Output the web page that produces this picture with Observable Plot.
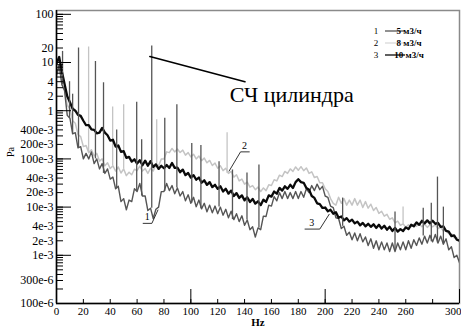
<!DOCTYPE html>
<html><head><meta charset="utf-8">
<script src="https://cdn.jsdelivr.net/npm/d3@7"></script>
<script src="https://cdn.jsdelivr.net/npm/@observablehq/plot@0.6"></script>
<style>body{margin:0;background:#fff}#chart{width:461px;height:332px}</style>
</head><body><div id="chart"></div>
<script>
// ---- data ----
const seriesNums = ["1", "2", "3"];
const seriesNames = ["5 м3/ч", "8 м3/ч", "10 м3/ч"];
const freqStep = 2; // Hz between samples below, starting at 0 Hz

// 5 m3/h (curve 1)
const p5 = [
  5.5, 9, 3.5, 2.6, 0.8, 0.7, 0.33, 0.35, 0.17, 0.18,
  0.1, 0.13, 0.1, 0.14, 0.08, 0.1, 0.062, 0.08, 0.05, 0.062,
  0.038, 0.042, 0.024, 0.027, 0.013, 0.015, 0.0088, 0.014, 0.013, 0.024,
  0.021, 0.031, 0.017, 0.017, 0.0085, 0.0095, 0.0058, 0.009, 0.01, 0.021,
  0.021, 0.031, 0.022, 0.028, 0.019, 0.025, 0.017, 0.021, 0.0135, 0.018,
  0.012, 0.016, 0.0102, 0.014, 0.0092, 0.012, 0.008, 0.011, 0.0076, 0.0105,
  0.0073, 0.01, 0.0068, 0.009, 0.006, 0.0082, 0.0055, 0.0073, 0.005, 0.0066,
  0.0042, 0.0054, 0.0034, 0.0039, 0.0024, 0.0037, 0.0034, 0.0065, 0.0064, 0.011,
  0.0105, 0.0165, 0.0135, 0.02, 0.015, 0.021, 0.015, 0.02, 0.015, 0.021,
  0.015, 0.021, 0.016, 0.024, 0.02, 0.028, 0.022, 0.03, 0.023, 0.027,
  0.017, 0.016, 0.0105, 0.0098, 0.006, 0.0058, 0.0036, 0.004, 0.0026, 0.003,
  0.0021, 0.0029, 0.002, 0.0028, 0.0019, 0.0024, 0.0016, 0.0022, 0.0014, 0.002,
  0.0013, 0.0019, 0.0013, 0.0018, 0.0012, 0.0018, 0.0012, 0.0018, 0.0013, 0.0019,
  0.0013, 0.002, 0.0014, 0.0021, 0.0016, 0.0023, 0.0017, 0.0025, 0.0018, 0.0026,
  0.0019, 0.0027, 0.0018, 0.0025, 0.0017, 0.0022, 0.0013, 0.0015, 0.0009, 0.001,
  0.0007
];
// 8 m3/h (curve 2)
const p8 = [
  5, 8.5, 3.5, 2.8, 1.3, 1.1, 0.62, 0.55, 0.32, 0.29,
  0.18, 0.19, 0.135, 0.155, 0.115, 0.13, 0.09, 0.1, 0.072, 0.083,
  0.063, 0.072, 0.056, 0.068, 0.051, 0.062, 0.045, 0.053, 0.047, 0.061,
  0.057, 0.071, 0.056, 0.063, 0.05, 0.064, 0.056, 0.077, 0.072, 0.099,
  0.1, 0.14, 0.135, 0.165, 0.14, 0.16, 0.136, 0.152, 0.12, 0.135,
  0.11, 0.125, 0.1, 0.115, 0.092, 0.104, 0.083, 0.093, 0.073, 0.082,
  0.064, 0.072, 0.057, 0.064, 0.05, 0.055, 0.042, 0.047, 0.035, 0.038,
  0.03, 0.033, 0.026, 0.028, 0.023, 0.026, 0.021, 0.025, 0.022, 0.029,
  0.028, 0.037, 0.035, 0.046, 0.043, 0.055, 0.05, 0.062, 0.055, 0.068,
  0.058, 0.069, 0.057, 0.065, 0.05, 0.054, 0.041, 0.043, 0.032, 0.032,
  0.024, 0.021, 0.015, 0.012, 0.011, 0.016, 0.012, 0.015, 0.011, 0.014,
  0.011, 0.015, 0.011, 0.014, 0.0098, 0.013, 0.0095, 0.0115, 0.0085, 0.0098,
  0.0074, 0.0082, 0.0065, 0.0071, 0.0056, 0.006, 0.0047, 0.0051, 0.0042, 0.0045,
  0.0038, 0.0043, 0.0039, 0.0044, 0.004, 0.0045, 0.0039, 0.0044, 0.0038, 0.0043,
  0.0039, 0.0043, 0.0036, 0.0038, 0.0032, 0.0033, 0.0028, 0.0028, 0.0023, 0.0023,
  0.002
];
// 10 m3/h (curve 3)
const p10 = [
  9.5, 13, 6.5, 3.6, 2.0, 1.5, 1.1, 1.0, 0.82, 0.78,
  0.62, 0.5, 0.5, 0.41, 0.4, 0.34, 0.35, 0.44, 0.35, 0.31,
  0.24, 0.25, 0.18, 0.19, 0.14, 0.145, 0.105, 0.11, 0.088, 0.098,
  0.08, 0.094, 0.074, 0.092, 0.072, 0.09, 0.068, 0.077, 0.062, 0.072,
  0.064, 0.075, 0.065, 0.082, 0.065, 0.066, 0.053, 0.06, 0.046, 0.051,
  0.041, 0.046, 0.037, 0.041, 0.032, 0.036, 0.029, 0.033, 0.026, 0.029,
  0.024, 0.027, 0.021, 0.024, 0.019, 0.022, 0.017, 0.0195, 0.0155, 0.0175,
  0.0138, 0.016, 0.0128, 0.0148, 0.0118, 0.0132, 0.011, 0.0142, 0.0128, 0.0175,
  0.0165, 0.021, 0.019, 0.025, 0.022, 0.027, 0.024, 0.029, 0.025, 0.033,
  0.038, 0.033, 0.032, 0.025, 0.023, 0.017, 0.0155, 0.012, 0.0115, 0.0096,
  0.0098, 0.0082, 0.0088, 0.0073, 0.0078, 0.006, 0.0064, 0.0053, 0.0059, 0.005,
  0.0055, 0.0046, 0.005, 0.0042, 0.0047, 0.004, 0.0045, 0.0039, 0.0044, 0.0037,
  0.0043, 0.0036, 0.0041, 0.0034, 0.0039, 0.0032, 0.0037, 0.0031, 0.0035, 0.0032,
  0.0038, 0.0035, 0.0043, 0.004, 0.0048, 0.0043, 0.0052, 0.0046, 0.0053, 0.0046,
  0.0052, 0.0045, 0.0047, 0.0039, 0.004, 0.0032, 0.0031, 0.0025, 0.0026, 0.0021,
  0.002
];
// narrow-band peaks (Hz, Pa)
const spike5F = [4.5, 9.7, 12, 16.4, 29, 35, 44.8, 59.7, 63.4, 70.9, 80.6, 89.6, 100.7, 107.5, 121, 131, 141.8, 150.7, 213, 252, 273, 279, 283.6, 288];
const spike5Peak = [17, 4, 2.2, 20, 10.5, 3.8, 0.4, 1.5, 0.25, 22, 0.7, 1.33, 0.21, 0.19, 0.087, 0.059, 0.051, 0.075, 0.0154, 0.0079, 0.0095, 0.012, 0.042, 0.01];
const spike8F = [23.9, 41.8, 50, 74.6, 127, 258];
const spike8Peak = [21, 1.2, 1.33, 0.65, 0.35, 0.01];

// axes
const yTickValues = [100, 20, 10, 4, 2, 1, 0.4, 0.2, 0.1, 0.04, 0.02, 0.01, 0.004, 0.002, 0.001, 0.0003, 0.0001];
const yTickLabels = ["100", "20", "10", "4", "2", "1", "400e-3", "200e-3", "100e-3", "40e-3", "20e-3", "10e-3", "4e-3", "2e-3", "1e-3", "300e-6", "100e-6"];
const yDecades = [100, 10, 1, 0.1, 0.01, 0.001, 0.0001];
const xTickValues = [0, 20, 40, 60, 80, 100, 120, 140, 160, 180, 200, 220, 240, 260, 280, 300];
const xTickLabels = ["0", "20", "40", "60", "80", "100", "120", "140", "160", "180", "200", "220", "240", "260", "", "300"];
const xMajor = [0, 100, 200, 300];

// ---- build ----
const colors = {"1": "#555555", "2": "#c4c4c4", "3": "#0a0a0a"};
const toRows = (arr, s) => arr.map((v, i) => ({f: i * freqStep, v, s}));
const d5 = toRows(p5, "1"), d8 = toRows(p8, "2"), d10 = toRows(p10, "3");
const spikes = (F, P, arr, s) => F.map((f, i) => ({f, peak: P[i], base: arr[Math.round(f / freqStep)], s}));
const s5 = spikes(spike5F, spike5Peak, p5, "1");
const s8 = spikes(spike8F, spike8Peak, p8, "2");
const yTicks = yTickValues.map((v, i) => ({v, t: yTickLabels[i]}));
const xTicks = xTickValues.map((v, i) => ({v, t: xTickLabels[i]}));
const xTicksMid = xTicks.slice(0, -1), xTicksLast = xTicks.slice(-1);
const yMinor = [];
for (const dec of [0.0001, 0.001, 0.01, 0.1, 1, 10, 100]) for (let k = 1; k <= 9; k++) { const t = +(k * dec).toPrecision(3); if (t <= 120) yMinor.push(t); }

const font = "Liberation Serif";
// annotation geometry
const cylLeader = [{f: 69.5, v: 13.3}, {f: 140.3, v: 4.0}];
const curveLeaders = [
  {f: 64.5, v: 0.0046, k: "1"}, {f: 71, v: 0.0046, k: "1"}, {f: 75.5, v: 0.0087, k: "1"},
  {f: 143.5, v: 0.14, k: "2"}, {f: 137, v: 0.14, k: "2"}, {f: 128.5, v: 0.056, k: "2"},
  {f: 185, v: 0.0035, k: "3"}, {f: 196, v: 0.0035, k: "3"}, {f: 203, v: 0.0071, k: "3"}
];
const curveLabels = [{f: 67.5, v: 0.0064, t: "1"}, {f: 140, v: 0.19, t: "2"}, {f: 190, v: 0.0048, t: "3"}];

const W = 461, H = 332, mL = 56, mR = 2, mT = 10, mB = 29;
const fw = W - mL - mR, fh = H - mT - mB;

const chart = Plot.plot({
  width: W, height: H,
  marginLeft: mL, marginRight: mR, marginTop: mT, marginBottom: mB,
  style: {fontFamily: font, background: "#fff"},
  x: {domain: [0, 300], axis: null},
  y: {type: "log", domain: [1e-4, 120], axis: null},
  marks: [
    Plot.frame({stroke: "#8a8a8a", strokeWidth: 1.5}),
    Plot.line(d8, {x: "f", y: "v", stroke: colors["2"], strokeWidth: 1.5, clip: true}),
    Plot.ruleX(s8, {x: "f", y1: "base", y2: "peak", stroke: colors["2"], strokeWidth: 1.3}),
    Plot.line(d5, {x: "f", y: "v", stroke: colors["1"], strokeWidth: 1.4, clip: true}),
    Plot.line(d10, {x: "f", y: "v", stroke: colors["3"], strokeWidth: 2.3, clip: true}),
    Plot.ruleX(s5, {x: "f", y1: "base", y2: "peak", stroke: colors["1"], strokeWidth: 1.3}),
    // axis lines & inner ticks
    Plot.ruleX([0], {stroke: "#000", strokeWidth: 1.5}),
    Plot.ruleY([1e-4], {stroke: "#000", strokeWidth: 1.5}),
    Plot.tickY(yMinor, {y: d => d, insetRight: fw - 7, stroke: "#000"}),
    Plot.tickY(yDecades, {y: d => d, insetRight: fw - 15, stroke: "#000"}),
    Plot.tickX(xTickValues, {x: d => d, insetTop: fh - 4, stroke: "#000"}),
    Plot.tickX(xMajor, {x: d => d, insetTop: fh - 14, stroke: "#000"}),
    // tick labels
    Plot.text(yTicks, {y: "v", text: "t", frameAnchor: "left", textAnchor: "end", dx: -3, fontSize: 12}),
    Plot.text(xTicksMid, {x: "v", text: "t", frameAnchor: "bottom", lineAnchor: "top", dy: 4, fontSize: 11}),
    Plot.text(xTicksLast, {x: "v", text: "t", frameAnchor: "bottom", lineAnchor: "top", textAnchor: "end", dx: 2, dy: 4, fontSize: 11}),
    Plot.text(["Hz"], {frameAnchor: "bottom", dy: 22, fontSize: 11, fontWeight: "bold"}),
    Plot.text(["Pa"], {frameAnchor: "left", dx: -46, rotate: -90, fontSize: 10}),
    // annotations
    Plot.line(cylLeader, {x: "f", y: "v", stroke: "#000", strokeWidth: 1.6}),
    Plot.text([{f: 129, v: 2.15, t: "СЧ цилиндра"}], {x: "f", y: "v", text: "t", textAnchor: "start", fontSize: 22}),
    Plot.line(curveLeaders, {x: "f", y: "v", z: "k", stroke: "#000", strokeWidth: 0.8}),
    Plot.text(curveLabels, {x: "f", y: "v", text: "t", fontSize: 10})
  ]
});
document.getElementById("chart").append(chart);

// legend (top right, inside the frame)
const g = d3.select(chart).append("g").attr("font-family", font).attr("font-size", 9);
seriesNums.forEach((n, i) => {
  const y = 31 + 12 * i;
  g.append("text").attr("x", 376).attr("y", y + 3).attr("text-anchor", "middle").text(n);
  g.append("line").attr("x1", 385).attr("x2", 405).attr("y1", y).attr("y2", y)
    .attr("stroke", i === 1 ? "#d8d8d8" : colors[n]).attr("stroke-width", 1.3);
  g.append("text").attr("x", 409).attr("y", y + 3).attr("font-weight", "bold").text(seriesNames[i]);
});
</script>
</body></html>
